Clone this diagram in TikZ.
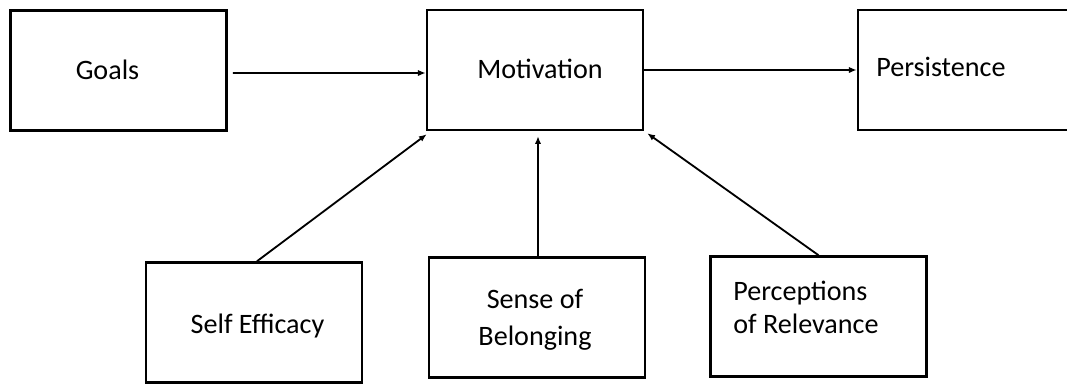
\documentclass[tikz,border=0pt]{standalone}
\usepackage{fontspec}
\setmainfont{Carlito}
\usetikzlibrary{arrows.meta}

\begin{document}
\begin{tikzpicture}[x=0.025cm, y=-0.025cm,
    box/.style={draw, line width=1.8pt, minimum width=5.4cm, minimum height=3cm, inner sep=0pt},
    lbl/.style={font=\fontsize{20}{26}\selectfont, inner sep=0pt},
    arr/.style={line width=1.3pt, -{Latex[length=5.5pt,width=4.5pt]}}]

    \useasboundingbox (0,0) rectangle (1067,383);

    % top row
    \node[box] (goals) at (118.5,70.5) {};
    \node[box] (motiv) at (535,70) {};
    \node[box] (persist) at (966,70) {};

    % bottom row
    \node[box] (self) at (254,322.5) {};
    \node[box] (sense) at (537,317.5) {};
    \node[box] (percep) at (818.5,316.5) {};

    \node[lbl, anchor=base] (goals-t) at (107.5,79) {Goals};
    \node[lbl, anchor=base] (motiv-t) at (540,78) {Motivation};
    \node[lbl, anchor=base west] (persist-t) at (876,76) {Persistence};
    \node[lbl, anchor=base] (self-t) at (257.5,333) {Self Efficacy};
    \node[lbl, anchor=base, align=center] (sense-t) at (535,345) {Sense of\\Belonging};
    \node[lbl, anchor=base west, align=left, font=\fontsize{20}{23.4}\selectfont] (percep-t) at (733,333) {Perceptions\\of Relevance};

    \draw[arr] ([shift={(5,2.5)}]goals.east) -- ([shift={(0,3)}]motiv.west);
    \draw[arr] (motiv.east) -- (persist.west);

    \draw[arr] ([shift={(3,0)}]self.north) -- ([shift={(1,3)}]motiv.south west);
    \draw[arr, shorten >=3.5pt] ([shift={(1,0)}]sense.north) -- ([shift={(1,0)}]sense.north |- motiv.south);
    \draw[arr] (percep.north) -- ([shift={(3,2)}]motiv.south east);

\end{tikzpicture}
\end{document}
